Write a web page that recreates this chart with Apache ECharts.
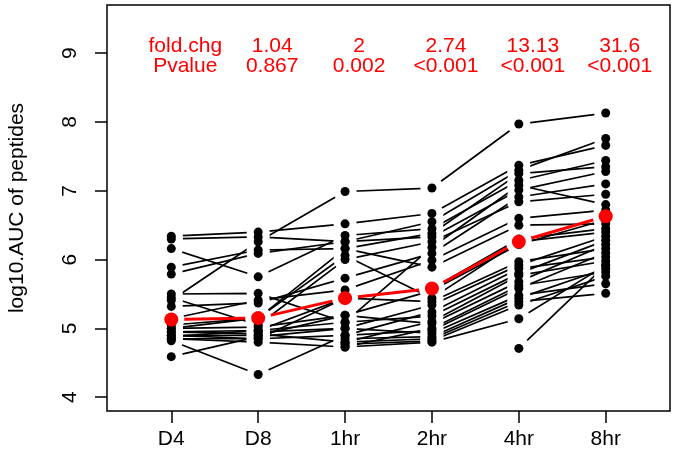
<!DOCTYPE html>
<html>
<head>
<meta charset="utf-8">
<script src="https://cdn.jsdelivr.net/npm/echarts@6/dist/echarts.min.js"></script>
<style>
html,body{margin:0;padding:0;background:#fff;}
#chart{width:678px;height:466px;}
</style>
</head>
<body>
<div id="chart"></div>
<script>
// ---- data ----
const categories = ['D4', 'D8', '1hr', '2hr', '4hr', '8hr'];
const yTicks = [4, 5, 6, 7, 8, 9];
const meanValues = [5.13, 5.15, 5.44, 5.58, 6.26, 6.63];
const foldChange = ['fold.chg', '1.04', '2', '2.74', '13.13', '31.6'];
const pValues = ['Pvalue', '0.867', '0.002', '<0.001', '<0.001', '<0.001'];
// one row per peptide: D4, D8, 1hr, 2hr, 4hr, 8hr (null = no point)
const peptideValues = [
  [5.41, 6.26, 6.99, 7.04, 7.97, 8.13],
  [6.34, 6.40, 6.52, 6.67, 7.37, 7.66],
  [6.30, 6.33, 6.26, 6.55, 7.30, 7.76],
  [6.16, 5.75, 6.35, 6.45, 7.15, 7.44],
  [5.89, 6.14, 6.16, 6.38, 7.25, 7.35],
  [5.79, 6.09, 6.26, 6.33, 7.01, 7.28],
  [5.50, 5.51, 5.09, 6.18, 7.08, 6.80],
  [5.45, 5.05, 6.00, 6.26, 6.84, 6.95],
  [5.32, 5.37, 5.73, 6.09, 6.91, 7.10],
  [5.14, 5.41, 5.56, 5.99, 6.60, 6.72],
  [5.00, 5.15, 6.16, 5.89, 6.50, 6.52],
  [4.95, 4.97, 5.44, 5.58, 6.30, 6.45],
  [4.90, 4.90, 5.19, 5.55, 6.22, 6.58],
  [5.05, 5.15, 6.06, 5.44, 6.26, 6.40],
  [4.85, 4.85, 5.44, 5.39, 5.97, 6.16],
  [4.59, 4.88, 5.00, 5.34, 5.92, 6.34],
  [4.82, 4.33, 4.90, 5.24, 5.87, 6.04],
  [4.88, 4.97, 5.09, 5.18, 5.80, 6.28],
  [4.95, 4.92, 4.80, 5.10, 5.77, 5.98],
  [5.00, 5.02, 5.19, 5.07, 5.68, 6.22],
  [4.85, 4.80, 4.73, 5.00, 5.62, 5.82],
  [4.90, 4.85, 4.90, 4.97, 5.58, 6.10],
  [null, 4.95, 5.00, 4.93, 5.48, 5.65],
  [null, null, 4.85, 4.88, 5.44, 5.87],
  [null, null, 4.80, 4.85, 5.39, 5.51],
  [null, null, 4.77, 4.82, 5.34, 5.76],
  [null, null, 4.73, 4.80, 5.14, 5.92],
  [null, null, null, null, 4.71, 5.92]
];

// ---- build chart ----
const FONT = '"Liberation Sans", Arial, Helvetica, sans-serif';
const FS = 21;
const xPos = categories.map((c, i) => i + 1);

function rowToData(row) {
  return row.map((v, i) => [xPos[i], v == null ? '-' : v]);
}
const allPoints = [];
peptideValues.forEach(row => row.forEach((v, i) => { if (v != null) allPoints.push([xPos[i], v]); }));
const meanData = meanValues.map((v, i) => [xPos[i], v]);

const series = [];
peptideValues.forEach((row, k) => {
  series.push({
    type: 'line', name: 'p' + k, data: rowToData(row), z: 2,
    showSymbol: false, symbol: 'none', connectNulls: false, silent: true,
    lineStyle: { color: '#000', width: 1.7, opacity: 1 }
  });
});
series.push({
  type: 'line', name: 'mean-line', data: meanData, z: 3, symbol: 'none', silent: true,
  lineStyle: { color: '#ff0000', width: 3, opacity: 1 }
});
// white gaps around points (R type="b")
series.push({
  type: 'scatter', name: 'gaps', data: allPoints, z: 4, symbolSize: 23, silent: true,
  itemStyle: { color: '#fff', opacity: 1 }
});
series.push({
  type: 'scatter', name: 'gaps-mean', data: meanData, z: 4, symbolSize: 26, silent: true,
  itemStyle: { color: '#fff', opacity: 1 }
});
series.push({
  type: 'scatter', name: 'points', data: allPoints, z: 5, symbolSize: 9, silent: true,
  itemStyle: { color: '#000', opacity: 1 }
});
series.push({
  type: 'scatter', name: 'mean-points', data: meanData, z: 6, symbolSize: 14, silent: true,
  itemStyle: { color: '#ff0000', opacity: 1 }
});
// header text rows
function textRow(labels, y, dy) {
  return {
    type: 'scatter', data: labels.map((t, i) => ({ value: [xPos[i], y], name: t })),
    symbolSize: 0, z: 7, silent: true,
    itemStyle: { opacity: 1 },
    label: {
      show: true, position: 'inside', offset: [14, dy], formatter: p => p.name,
      color: '#ff0000', opacity: 1, fontSize: FS, fontFamily: FONT
    }
  };
}
series.push(textRow(foldChange, 9, -7));
series.push(textRow(pValues, 9, 13));

const chart = echarts.init(document.getElementById('chart'), null, { renderer: 'canvas' });
chart.setOption({
  animation: false,
  backgroundColor: '#fff',
  grid: {
    left: 107, top: 5, width: 563, height: 406, containLabel: false, outerBoundsMode: 'none',
    show: true, borderColor: '#000', borderWidth: 1.5, backgroundColor: 'transparent'
  },
  xAxis: {
    type: 'value', min: 0.26, max: 6.74,
    axisLine: { show: false },
    splitLine: { show: false },
    axisTick: { show: true, customValues: xPos, length: 12, inside: false, lineStyle: { color: '#000', width: 1.5 } },
    axisLabel: {
      customValues: xPos, margin: 18, color: '#000', fontSize: FS, fontFamily: FONT,
      formatter: v => categories[Math.round(v) - 1]
    }
  },
  yAxis: {
    type: 'value', min: 3.8, max: 9.7,
    name: 'log10.AUC of peptides', nameLocation: 'middle', nameRotate: 90, nameGap: 79,
    nameTextStyle: { color: '#000', fontSize: FS, fontFamily: FONT },
    axisLine: { show: false },
    splitLine: { show: false },
    axisTick: { show: true, customValues: yTicks, length: 12, inside: false, lineStyle: { color: '#000', width: 1.5 } },
    axisLabel: {
      customValues: yTicks, rotate: 90, margin: 26, color: '#000', fontSize: FS, fontFamily: FONT,
      formatter: v => String(v)
    }
  },
  series: series
});
</script>
</body>
</html>
